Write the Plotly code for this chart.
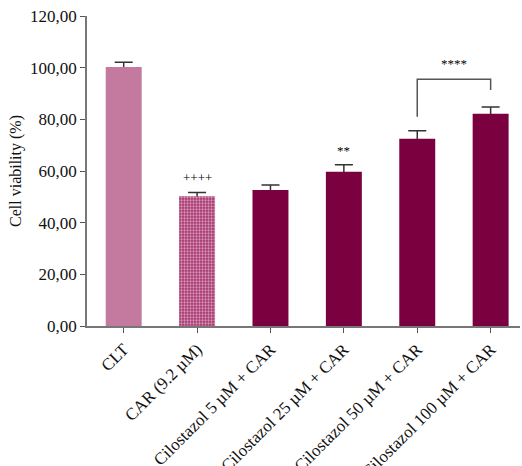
import plotly.graph_objects as go

categories = ["CLT", "CAR (9.2 µM)", "Cilostazol 5 µM + CAR", "Cilostazol 25 µM + CAR",
              "Cilostazol 50 µM + CAR", "Cilostazol 100 µM + CAR"]
values = [100.3, 50.2, 52.6, 59.7, 72.5, 82.2]
errors = [1.8, 1.5, 2.0, 2.7, 3.1, 2.6]
colors = ["#c47a9e", "#a8336e", "#7a0040", "#7a0040", "#7a0040", "#7a0040"]
patterns = ["", ".", "", "", "", ""]

y_ticks = [0, 20, 40, 60, 80, 100, 120]
y_tick_labels = ["0,00", "20,00", "40,00", "60,00", "80,00", "100,00", "120,00"]

marks = [("++++", 1, 57.5), ("**", 3, 68.0), ("****", 4.5, 101.5)]
bracket_x = [4, 4, 5, 5]
bracket_y = [81.0, 95.5, 95.5, 91.4]

font_family = "Liberation Serif"
x_range = [-0.5, 5.4]
y_range = [0, 120]
xpos = list(range(len(categories)))

fig = go.Figure()
# error bars underneath (lower half hidden by the bars drawn on the overlaying axes)
fig.add_trace(go.Scatter(
    x=xpos, y=values, mode="markers", marker=dict(size=0.1, color="rgba(0,0,0,0)"),
    error_y=dict(type="data", array=errors, color="#333333", thickness=1.5, width=9),
    showlegend=False, hoverinfo="skip", xaxis="x", yaxis="y",
))
fig.add_trace(go.Bar(
    x=xpos, y=values, width=0.49,
    marker=dict(color=colors, line=dict(width=0),
                pattern=dict(shape=patterns, fgcolor="#6e1446", bgcolor="#b04880",
                             size=3, solidity=0.45)),
    showlegend=False, xaxis="x2", yaxis="y2",
))
fig.add_trace(go.Scatter(x=bracket_x, y=bracket_y, mode="lines",
                         line=dict(color="#555555", width=1.5), showlegend=False,
                         hoverinfo="skip", xaxis="x2", yaxis="y2"))

for text, x, y in marks:
    fig.add_annotation(x=x, y=y, xref="x2", yref="y2", text=text, showarrow=False,
                       font=dict(family=font_family, size=13, color="#000000"),
                       yanchor="middle")

fig.update_layout(
    width=522, height=466,
    margin=dict(l=87, r=2, t=16, b=140, autoexpand=False),
    plot_bgcolor="white", paper_bgcolor="white",
    font=dict(family=font_family, size=17, color="#111111"),
    xaxis=dict(
        range=x_range, automargin=False,
        tickmode="array", tickvals=xpos, ticktext=categories,
        tickangle=-45, ticks="outside", ticklen=5, tickcolor="#555555",
        showline=True, linecolor="#777777", linewidth=1.5,
        showgrid=False, zeroline=False, tickfont=dict(size=17),
    ),
    yaxis=dict(
        range=y_range, automargin=False,
        tickmode="array", tickvals=y_ticks, ticktext=y_tick_labels,
        ticks="outside", ticklen=5, tickcolor="#555555",
        showline=True, linecolor="#777777", linewidth=1.5,
        showgrid=False, zeroline=False, tickfont=dict(size=17),
        title=dict(text="Cell viability (%)", font=dict(size=16), standoff=4),
    ),
    xaxis2=dict(range=x_range, overlaying="x", visible=False),
    yaxis2=dict(range=y_range, overlaying="y", visible=False),
)

fig.write_html("out.html")
